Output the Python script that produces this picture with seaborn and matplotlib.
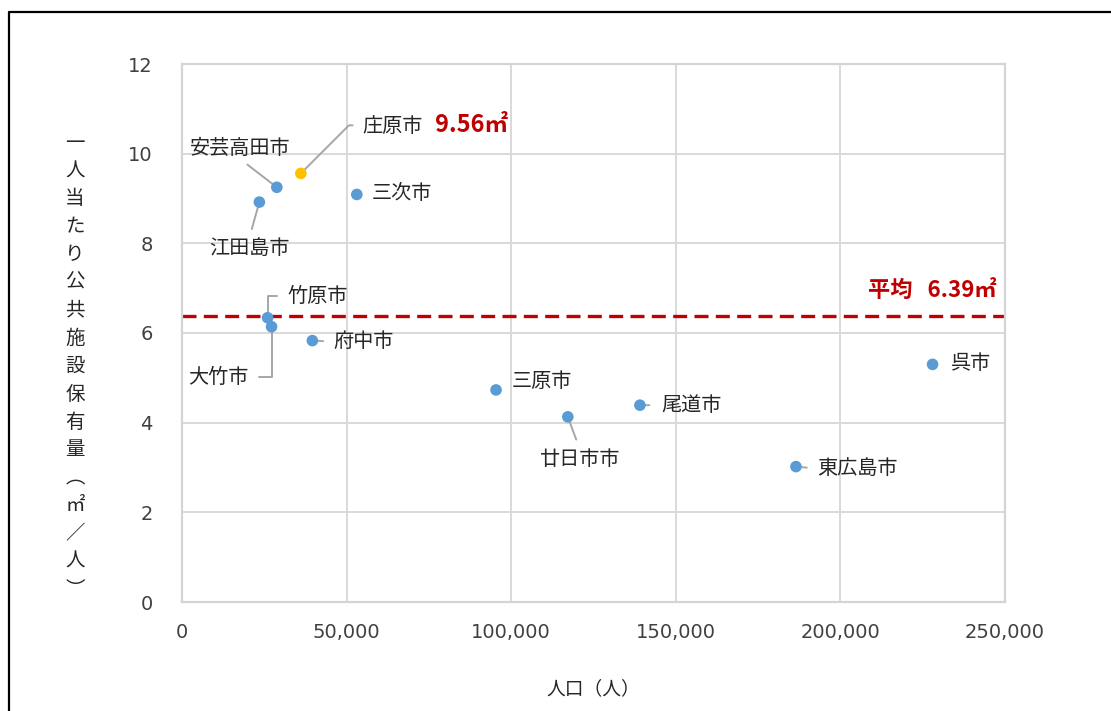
import numpy as np
import pandas as pd
import matplotlib
matplotlib.use('Agg')
import matplotlib.pyplot as plt
from matplotlib.lines import Line2D
from matplotlib.ticker import FuncFormatter
import seaborn as sns

# data
cities = ['庄原市', '安芸高田市', '江田島市', '三次市', '竹原市', '大竹市', '府中市',
          '三原市', '廿日市市', '尾道市', '東広島市', '呉市']
population = [36100, 28800, 23500, 53100, 26000, 27200, 39600,
              95400, 117200, 139100, 186500, 228000]
area_per_capita = [9.56, 9.25, 8.92, 9.09, 6.34, 6.14, 5.83,
                   4.73, 4.13, 4.39, 3.02, 5.30]
highlight_city = '庄原市'
highlight_text = '9.56㎡'
avg_value = 6.39
avg_text = '平均   6.39㎡'
x_ticks = [0, 50000, 100000, 150000, 200000, 250000]
y_ticks = [0, 2, 4, 6, 8, 10, 12]
xlabel = '人口（人）'
ylabel_chars = list('一人当たり公共施設保有量') + ['︵', '㎡', '／', '人', '︶']

# label placement: (dx, dy) in pixels, ha, va, leader style (None = no leader)
label_pos = {
    '庄原市': (62, 47, 'left', 'center', ('angle,angleA=0,angleB=45,rad=0', (0, 0.55), 5)),
    '安芸高田市': (-37, 39, 'center', 'center', ('arc3', (0.5, 0), 3)),
    '江田島市': (-10, -46, 'center', 'center', ('arc3', (0.5, 1), 4)),
    '三次市': (15, 1, 'left', 'center', None),
    '竹原市': (20, 21, 'left', 'center', ('angle,angleA=0,angleB=90,rad=0', (0, 0.55), 5)),
    '大竹市': (-23, -51, 'right', 'center', ('angle,angleA=0,angleB=90,rad=0', (1, 0.55), 5)),
    '府中市': (21, -1, 'left', 'center', ('arc3', (0, 0.5), 5)),
    '三原市': (16, 8, 'left', 'center', None),
    '廿日市市': (12, -43, 'center', 'center', ('arc3', (0.5, 1), 5)),
    '尾道市': (21, 0, 'left', 'center', ('arc3', (0, 0.5), 6)),
    '東広島市': (21, -2, 'left', 'center', ('arc3', (0, 0.5), 5)),
    '呉市': (17, 1, 'left', 'center', None),
}

df = pd.DataFrame({'city': cities, 'pop': population, 'area': area_per_capita})
df['hl'] = df['city'] == highlight_city

sns.set_style('white')
jp = ['Noto Sans CJK JP', 'DejaVu Sans']
plt.rcParams['font.family'] = jp

fig = plt.figure(figsize=(11.11, 7.11), dpi=100)
ax = fig.add_axes([182 / 1111, 1 - 602 / 711, (1005 - 182) / 1111, (602 - 64) / 711])

ax.axhline(avg_value, color='#C00000', lw=2.4, ls=(0, (4.2, 2.2)), zorder=2)

sns.scatterplot(data=df, x='pop', y='area', hue='hl',
                palette={False: '#5B9BD5', True: '#FFC000'},
                s=70, edgecolor='none', legend=False, ax=ax, zorder=5)

ax.set_xlim(0, 250000)
ax.set_ylim(0, 12)
ax.set_xticks(x_ticks)
ax.set_yticks(y_ticks)
ax.xaxis.set_major_formatter(FuncFormatter(lambda v, p: f'{v:,.0f}'))
ax.grid(True, color='#d9d9d9', lw=1.4)
ax.set_axisbelow(True)
for sp in ax.spines.values():
    sp.set_color('#d4d4d4')
    sp.set_linewidth(1.6)
ax.tick_params(axis='both', length=0, labelsize=14, labelcolor='#404040')
ax.tick_params(axis='x', pad=15)
ax.tick_params(axis='y', pad=21)
for lab in ax.get_xticklabels() + ax.get_yticklabels():
    lab.set_family('DejaVu Sans')
ax.set_xlabel('')
ax.set_ylabel('')

for _, row in df.iterrows():
    dx, dy, ha, va, leader = label_pos[row['city']]
    kw = {}
    if leader is not None:
        cs, rp, shr = leader
        kw['arrowprops'] = dict(arrowstyle='-', color='#a6a6a6', lw=1.4,
                                connectionstyle=cs, relpos=rp,
                                shrinkA=shr, shrinkB=0)
    ax.annotate(row['city'], xy=(row['pop'], row['area']), xytext=(dx, dy),
                textcoords='offset pixels', ha=ha, va=va, fontsize=14.5,
                color='#262626', zorder=3, **kw)
    if row['city'] == highlight_city:
        ax.annotate(highlight_text, xy=(row['pop'], row['area']), xytext=(dx + 72, dy + 1),
                    textcoords='offset pixels', ha='left', va='center', fontsize=17,
                    fontweight='bold', color='#C00000')

ax.annotate(avg_text, xy=(1, avg_value), xycoords=ax.get_yaxis_transform(),
            xytext=(-8, 25), textcoords='offset pixels', ha='right', va='center',
            fontsize=16, fontweight='bold', color='#C00000')

# axis titles
fig.text(593.5 / 1111, 1 - 689 / 711, xlabel, ha='center', va='center',
         fontsize=13.5, color='#262626')
for i, ch in enumerate(ylabel_chars):
    fig.text(75 / 1111, 1 - (143 + i * 27.9) / 711, ch, ha='center', va='center',
             fontsize=14, color='#262626')

# outer black frame (top and left visible)
fig.add_artist(Line2D([9 / 1111, 9 / 1111, 1], [0, 1 - 12 / 711, 1 - 12 / 711],
                      color='black', lw=1.6, transform=fig.transFigure))

fig.savefig('out.png', dpi=100, facecolor='white')
